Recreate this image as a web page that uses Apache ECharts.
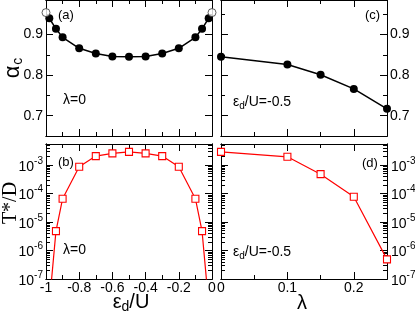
<!DOCTYPE html>
<html><head><meta charset="utf-8">
<script src="https://cdn.jsdelivr.net/npm/echarts@6/dist/echarts.min.js"></script>
<style>html,body{margin:0;padding:0;background:#fff}#c{width:415px;height:318px}</style>
</head><body><div id="c"></div><script>
// ---- data ----
const epsA = [-0.98, -0.94, -0.9, -0.8, -0.7, -0.6, -0.5, -0.4, -0.3, -0.2, -0.1, -0.06, -0.02];
const alphaA = [0.940, 0.914, 0.893, 0.866, 0.853, 0.846, 0.845, 0.846, 0.853, 0.866, 0.893, 0.914, 0.940];
const epsOpen = [-1, 0];
const alphaOpen = [0.954, 0.954];
const epsB = [-0.98, -0.94, -0.9, -0.8, -0.7, -0.6, -0.5, -0.4, -0.3, -0.2, -0.1, -0.06, -0.02];
const tB = [1.3e-8, 4.8e-6, 6.6e-5, 8.7e-4, 2.07e-3, 2.57e-3, 2.9e-3, 2.57e-3, 2.07e-3, 8.7e-4, 6.6e-5, 4.8e-6, 1.3e-8];
const lamC = [0, 0.1, 0.15, 0.2, 0.25];
const alphaC = [0.845, 0.826, 0.801, 0.766, 0.717];
const lamD = [0, 0.1, 0.15, 0.2, 0.25];
const tD = [2.9e-3, 1.95e-3, 4.8e-4, 7.7e-5, 4.9e-7];

// ---- ticks / labels ----
const epsMajorTicks = [-1, -0.8, -0.6, -0.4, -0.2, 0];
const epsTickLabels = ['-1', '-0.8', '-0.6', '-0.4', '-0.2', '0'];
const epsMinorTicks = [-0.9, -0.7, -0.5, -0.3, -0.1];
const lamMajorTicks = [0, 0.1, 0.2];
const lamTickLabels = ['0', '0.1', '0.2'];
const lamMinorTicks = [0.05, 0.15, 0.25];
const alphaMajorTicks = [0.7, 0.8, 0.9];
const alphaTickLabels = ['0.7', '0.8', '0.9'];
const alphaMinorTicks = [0.65, 0.75, 0.85, 0.95];
const tMajorTicks = [1e-7, 1e-6, 1e-5, 1e-4, 1e-3];
const tTickExps = ['-7', '-6', '-5', '-4', '-3'];
const tMinorMantissas = [2, 3, 4, 5, 6, 7, 8, 9];
const tMinorTicks = [];
tMajorTicks.forEach(d => tMinorMantissas.forEach(m => { const v = m * d; if (v < 5.5e-3) tMinorTicks.push(v); }));

const SANS = "'Liberation Sans', Arial, Helvetica, sans-serif";
const SERIF = "'Liberation Serif', 'Times New Roman', serif";

function lookup(vals, labels) {
  return v => { for (let i = 0; i < vals.length; i++) if (Math.abs(vals[i] - v) < 1e-9) return labels[i]; return ''; };
}
const supRich = {
  b: { fontSize: 14, fontFamily: SANS, color: '#000', lineHeight: 14, padding: [4, 0, 0, 0] },
  s: { fontSize: 10, fontFamily: SANS, color: '#000', lineHeight: 10, padding: [0, 0, 8, 0] }
};
const logFmt = v => { const i = tMajorTicks.findIndex(t => Math.abs(t - v) / t < 1e-6); return i < 0 ? '' : '{b|10}{s|' + tTickExps[i] + '}'; };

const xAxis = [], yAxis = [];
function axis(list, type, grid, pos, min, max, ticks, len, labels, fmt, margin, rich) {
  const a = {
    type: type, gridIndex: grid, position: pos, min: min, max: max,
    axisLine: { show: true, onZero: false, lineStyle: { color: '#000', width: 1 } },
    axisTick: { show: true, inside: true, length: len, customValues: ticks, lineStyle: { color: '#000', width: 1 } },
    axisLabel: labels ? { show: true, customValues: labels, formatter: fmt, margin: margin, color: '#000', fontSize: 14, fontFamily: SANS, rich: rich } : { show: false },
    splitLine: { show: false }, minorTick: { show: false }
  };
  if (type === 'log') a.logBase = 10;
  list.push(a);
  return list.length - 1;
}
const MAJ = 7, MIN = 4;
function panel(g, xType, xr, xMaj, xMin, xLabels, xFmt, yType, yr, yMaj, yMin, yLabels, yFmt, yPos, yRich, yMargin) {
  const r = {};
  r.x = axis(xAxis, xType, g, 'bottom', xr[0], xr[1], xMaj, MAJ, xLabels, xFmt, 2);
  axis(xAxis, xType, g, 'bottom', xr[0], xr[1], xMin, MIN, null);
  axis(xAxis, xType, g, 'top', xr[0], xr[1], xMaj, MAJ, null);
  axis(xAxis, xType, g, 'top', xr[0], xr[1], xMin, MIN, null);
  r.yL = axis(yAxis, yType, g, 'left', yr[0], yr[1], yMaj, MAJ, yPos === 'left' ? yLabels : null, yFmt, yMargin, yRich);
  axis(yAxis, yType, g, 'left', yr[0], yr[1], yMin, MIN, null);
  r.yR = axis(yAxis, yType, g, 'right', yr[0], yr[1], yMaj, MAJ, yPos === 'right' ? yLabels : null, yFmt, yMargin, yRich);
  axis(yAxis, yType, g, 'right', yr[0], yr[1], yMin, MIN, null);
  r.y = yPos === 'left' ? r.yL : r.yR;
  return r;
}
const alphaRange = [0.65, 0.985];
const tRange = [1e-7, 5.5e-3];
const pA = panel(0, 'value', [-1, 0], epsMajorTicks, epsMinorTicks, null, null, 'value', alphaRange, alphaMajorTicks, alphaMinorTicks, alphaMajorTicks, lookup(alphaMajorTicks, alphaTickLabels), 'left', null, 3);
const pB = panel(1, 'value', [-1, 0], epsMajorTicks, epsMinorTicks, epsMajorTicks, lookup(epsMajorTicks, epsTickLabels), 'log', tRange, tMajorTicks, tMinorTicks, tMajorTicks, logFmt, 'left', supRich, 3);
const pC = panel(2, 'value', [0, 0.25], lamMajorTicks, lamMinorTicks, null, null, 'value', alphaRange, alphaMajorTicks, alphaMinorTicks, alphaMajorTicks, lookup(alphaMajorTicks, alphaTickLabels), 'right', null, 3);
const pD = panel(3, 'value', [0, 0.25], lamMajorTicks, lamMinorTicks, lamMajorTicks, lookup(lamMajorTicks, lamTickLabels), 'log', tRange, tMajorTicks, tMinorTicks, tMajorTicks, logFmt, 'right', supRich, 4);

const zip = (a, b) => a.map((v, i) => [v, b[i]]);
const blackLine = (p, xs, ys) => ({
  type: 'line', xAxisIndex: p.x, yAxisIndex: p.y, data: zip(xs, ys),
  symbol: 'circle', symbolSize: 8, showAllSymbol: true,
  lineStyle: { color: '#000', width: 1.5 }, itemStyle: { color: '#000' }, z: 5
});
const redLine = (p, xs, ys) => ({
  type: 'line', xAxisIndex: p.x, yAxisIndex: p.y, data: zip(xs, ys),
  symbol: 'rect', symbolSize: 7, showAllSymbol: true,
  lineStyle: { color: '#ff0000', width: 1.2 }, itemStyle: { color: '#fff', borderColor: '#ff0000', borderWidth: 1.1 }, z: 5
});

const T = (x, y, text, extra) => ({ type: 'text', x: x, y: y, z: 100, style: Object.assign({ text: text, fontSize: 13, fontFamily: SANS, fill: '#000', verticalAlign: 'middle', align: 'left' }, extra || {}) });
const epsRich = {
  e: { fontSize: 14, fontFamily: SANS, lineHeight: 14 },
  d: { fontSize: 10, fontFamily: SANS, lineHeight: 10, padding: [8, 0, 0, 0] },
  m: { fontSize: 14, fontFamily: SANS, lineHeight: 14 }
};

const option = {
  animation: false,
  backgroundColor: '#fff',
  grid: [
    { left: 46, top: 0, width: 166, height: 136, containLabel: false, outerBoundsMode: 'none' },
    { left: 46, top: 144, width: 166, height: 135, containLabel: false, outerBoundsMode: 'none' },
    { left: 221, top: 0, width: 166, height: 136, containLabel: false, outerBoundsMode: 'none' },
    { left: 221, top: 144, width: 166, height: 135, containLabel: false, outerBoundsMode: 'none' }
  ],
  xAxis: xAxis,
  yAxis: yAxis,
  series: [
    blackLine(pA, epsA, alphaA),
    { type: 'scatter', xAxisIndex: pA.x, yAxisIndex: pA.y, data: zip(epsOpen, alphaOpen), symbol: 'circle', symbolSize: 8, clip: false,
      itemStyle: { color: '#fff', borderColor: '#333', borderWidth: 1 }, z: 6 },
    redLine(pB, epsB, tB),
    blackLine(pC, lamC, alphaC),
    redLine(pD, lamD, tD)
  ],
  graphic: [
    T(58, 15, '(a)'), T(58, 162, '(b)'), T(365, 15, '(c)'), T(362, 163, '(d)'),
    T(63, 100, 'λ=0', { fontSize: 14 }), T(63, 250, 'λ=0', { fontSize: 14 }),
    T(233, 102, '{e|ε}{d|d}{m|/U=-0.5}', { rich: epsRich }),
    T(233, 252, '{e|ε}{d|d}{m|/U=-0.5}', { rich: epsRich }),
    { type: 'text', x: 13, y: 68, rotation: Math.PI / 2, z: 100,
      style: { text: '{a|α}{c|c}', align: 'center', verticalAlign: 'middle', fill: '#000',
        rich: { a: { fontSize: 22, fontFamily: SANS, lineHeight: 22 }, c: { fontSize: 14, fontFamily: SANS, lineHeight: 14, padding: [10, 0, 0, 1] } } } },
    { type: 'text', x: 11, y: 203, rotation: Math.PI / 2, z: 100,
      style: { text: 'T*/D', align: 'center', verticalAlign: 'middle', fill: '#000', fontSize: 20, fontFamily: SERIF } },
    { type: 'text', x: 131, y: 302, z: 100,
      style: { text: '{e|ε}{d|d}{m|/U}', align: 'center', verticalAlign: 'middle', fill: '#000',
        rich: { e: { fontSize: 20, fontFamily: SANS, lineHeight: 20 }, d: { fontSize: 14, fontFamily: SANS, lineHeight: 14, padding: [10, 0, 0, 0] }, m: { fontSize: 20, fontFamily: SANS, lineHeight: 20 } } } },
    { type: 'text', x: 302, y: 303, z: 100,
      style: { text: 'λ', align: 'center', verticalAlign: 'middle', fill: '#000', fontSize: 20, fontFamily: SANS } }
  ]
};
const chart = echarts.init(document.getElementById('c'), null, { renderer: 'canvas' });
chart.setOption(option);
</script></body></html>
